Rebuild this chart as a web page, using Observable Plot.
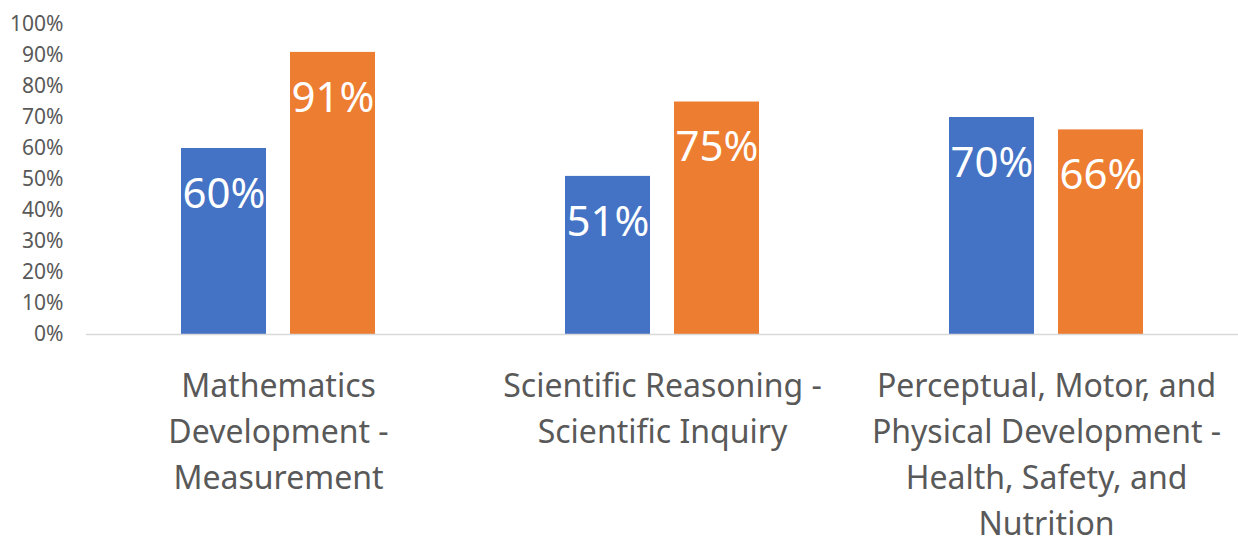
<!DOCTYPE html>
<html>
<head>
<meta charset="utf-8">
<script src="https://cdn.jsdelivr.net/npm/d3@7"></script>
<script src="https://cdn.jsdelivr.net/npm/@observablehq/plot@0.6"></script>
<style>
  html, body { margin: 0; padding: 0; background: #ffffff; }
  #chart svg { display: block; }
</style>
</head>
<body>
<div id="chart"></div>
<script>
const categories = [
  "Mathematics Development - Measurement",
  "Scientific Reasoning - Scientific Inquiry",
  "Perceptual, Motor, and Physical Development - Health, Safety, and Nutrition"
];
const categoryLines = [
  "Mathematics\nDevelopment -\nMeasurement",
  "Scientific Reasoning -\nScientific Inquiry",
  "Perceptual, Motor, and\nPhysical Development -\nHealth, Safety, and\nNutrition"
];
const seriesNames = ["Series 1", "Series 2"];
const series1 = [0.60, 0.51, 0.70];
const series2 = [0.91, 0.75, 0.66];
const seriesColors = ["#4472C4", "#ED7D31"];
const yTicks = [0, 0.1, 0.2, 0.3, 0.4, 0.5, 0.6, 0.7, 0.8, 0.9, 1.0];

const data = [];
categories.forEach((c, i) => {
  data.push({category: c, series: seriesNames[0], value: series1[i]});
  data.push({category: c, series: seriesNames[1], value: series2[i]});
});
const labelOf = new Map(categories.map((c, i) => [c, categoryLines[i]]));

const chart = Plot.plot({
  width: 1238,
  height: 544,
  marginLeft: 86,
  marginRight: 0,
  marginTop: 24,
  marginBottom: 210,
  style: {fontFamily: "'Noto Sans', sans-serif", background: "#ffffff"},
  fx: {domain: categories, padding: 0, label: null},
  x: {domain: seriesNames, paddingInner: 0.218, paddingOuter: 0.8545, axis: null},
  y: {domain: [0, 1], label: null},
  color: {domain: seriesNames, range: seriesColors},
  marks: [
    Plot.axisY({ticks: yTicks, tickFormat: d => Math.round(d * 100) + "%", tickSize: 0, tickPadding: 23, fontSize: 21, fill: "#595959", label: null}),
    Plot.axisFx({anchor: "bottom", tickSize: 0, tickPadding: 30, fontSize: 32, lineHeight: 1.44, fill: "#595959", tickFormat: d => labelOf.get(d), label: null}),
    Plot.barY(data, {fx: "category", x: "series", y: "value", fill: "series"}),
    Plot.ruleY([0], {stroke: "#d9d9d9", strokeWidth: 1.5}),
    Plot.text(data, {fx: "category", x: "series", y: "value", text: d => Math.round(d.value * 100) + "%", dy: 46, fill: "white", fontSize: 42})
  ]
});
document.getElementById("chart").appendChild(chart);
</script>
</body>
</html>
